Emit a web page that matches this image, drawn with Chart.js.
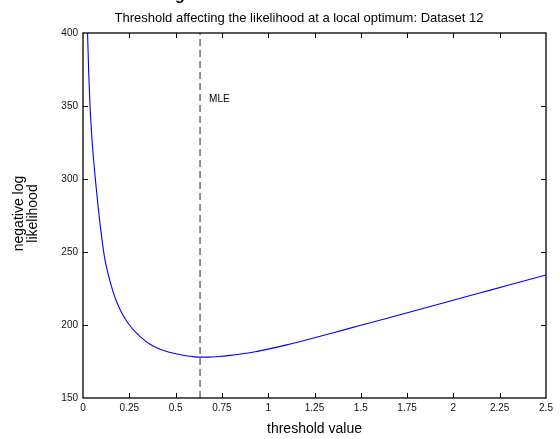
<!DOCTYPE html>
<html>
<head>
<meta charset="utf-8">
<script src="https://cdn.jsdelivr.net/npm/chart.js@4/dist/chart.umd.min.js"></script>
<style>
  html, body { margin: 0; padding: 0; background: #fff; }
  canvas { display: block; }
</style>
</head>
<body>
<canvas id="nllChart" width="560" height="439"></canvas>
<script>
// threshold grid and negative log likelihood along the profile
let thresholds = [0.015, 0.025, 0.031, 0.038, 0.047, 0.058, 0.069, 0.08, 0.09, 0.1,
    0.11, 0.12, 0.13, 0.146, 0.163, 0.182, 0.2, 0.225, 0.25, 0.28,
    0.308, 0.335, 0.36, 0.4, 0.44, 0.49, 0.54, 0.59, 0.632, 0.68,
    0.73, 0.794, 0.86, 0.93, 1.0, 1.1, 1.2, 1.352, 1.5, 1.712,
    1.9, 2.072, 2.2, 2.35, 2.5];
let nll = [455, 398, 372, 350, 330, 312, 297, 283, 271.5, 261,
    251.5, 243.8, 238, 230, 222.5, 215.8, 210.6, 204.8, 200.2, 195.6,
    192.2, 189.3, 187, 184.3, 182.3, 180.6, 179.3, 178.4, 178, 178,
    178.4, 179.2, 180.3, 181.7, 183.5, 186.4, 189.6, 194.7, 199.8, 207,
    213.5, 219.5, 223.9, 229.1, 234.3];

let mleThreshold = 0.632;
let mleLabel = 'MLE';
let mleLabelLevel = 355;

let xTicks = [0, 0.25, 0.5, 0.75, 1, 1.25, 1.5, 1.75, 2, 2.25, 2.5];
let yTicks = [150, 200, 250, 300, 350, 400];

let titleText = 'Threshold affecting the likelihood at a local optimum: Dataset 12';
let xTitle = 'threshold value';
let yTitle = ['negative log', 'likelihood'];

const FONT = '"Liberation Sans", Arial, Helvetica, sans-serif';

// box, inward ticks, titles and the MLE label
const framePlugin = {
    id: 'frame',
    afterDraw(chart) {
        const ctx = chart.ctx;
        const a = chart.chartArea;
        const xs = chart.scales.x, ys = chart.scales.y;
        ctx.save();
        ctx.strokeStyle = '#000';
        ctx.lineWidth = 1.3;
        ctx.strokeRect(a.left, a.top, a.right - a.left, a.bottom - a.top);

        ctx.lineWidth = 1;
        ctx.beginPath();
        xTicks.slice(1, -1).forEach(v => {
            const px = Math.round(xs.getPixelForValue(v)) + 0.5;
            ctx.moveTo(px, a.bottom); ctx.lineTo(px, a.bottom - 5);
            ctx.moveTo(px, a.top); ctx.lineTo(px, a.top + 5);
        });
        yTicks.slice(1, -1).forEach(v => {
            const py = Math.round(ys.getPixelForValue(v)) + 0.5;
            ctx.moveTo(a.left, py); ctx.lineTo(a.left + 5, py);
            ctx.moveTo(a.right, py); ctx.lineTo(a.right - 5, py);
        });
        ctx.stroke();

        ctx.fillStyle = '#000';
        // MLE label next to the dashed line
        ctx.font = '10px ' + FONT;
        ctx.textAlign = 'left';
        ctx.textBaseline = 'middle';
        ctx.fillText(mleLabel, xs.getPixelForValue(mleThreshold) + 9, ys.getPixelForValue(mleLabelLevel) + 1);

        // title
        ctx.font = '13px ' + FONT;
        ctx.textAlign = 'center';
        ctx.textBaseline = 'alphabetic';
        ctx.fillText(titleText, 299, 22);

        // leftover glyph of the figure heading cut off at the top edge
        ctx.font = 'bold 16px ' + FONT;
        ctx.textAlign = 'left';
        ctx.fillText('g', 175, -0.5);

        // axis titles
        ctx.font = '14px ' + FONT;
        ctx.textAlign = 'center';
        ctx.textBaseline = 'middle';
        ctx.fillText(xTitle, (a.left + a.right) / 2, 429);

        ctx.translate(26, (a.top + a.bottom) / 2 - 2);
        ctx.rotate(-Math.PI / 2);
        ctx.fillText(yTitle[0], 0, -7);
        ctx.fillText(yTitle[1], 0, 7);
        ctx.restore();
    }
};

new Chart(document.getElementById('nllChart'), {
    type: 'line',
    data: {
        datasets: [
            {
                label: 'nll',
                data: thresholds.map((t, i) => ({ x: t, y: nll[i] })),
                borderColor: '#0000ff',
                borderWidth: 1.1,
                pointRadius: 0,
                fill: false,
                cubicInterpolationMode: 'monotone'
            },
            {
                label: 'mle',
                data: [{ x: mleThreshold, y: yTicks[0] }, { x: mleThreshold, y: yTicks[yTicks.length - 1] }],
                borderColor: '#4a4a4a',
                borderWidth: 1.2,
                borderDash: [7, 4],
                pointRadius: 0,
                fill: false
            }
        ]
    },
    options: {
        responsive: false,
        animation: false,
        devicePixelRatio: 1,
        layout: { padding: { top: 33, right: 14, left: 0, bottom: 0 } },
        plugins: {
            legend: { display: false },
            tooltip: { enabled: false }
        },
        scales: {
            x: {
                type: 'linear',
                min: 0,
                max: 2.5,
                afterBuildTicks: s => { s.ticks = xTicks.map(v => ({ value: v })); },
                afterFit: s => { s.height = 41; },
                grid: { display: false, drawTicks: false },
                border: { display: false },
                ticks: {
                    padding: 4,
                    color: '#111',
                    font: { family: FONT, size: 10 },
                    maxRotation: 0,
                    autoSkip: false,
                    callback: v => String(v)
                }
            },
            y: {
                type: 'linear',
                min: 150,
                max: 400,
                afterBuildTicks: s => { s.ticks = yTicks.map(v => ({ value: v })); },
                afterFit: s => { s.width = 83; },
                grid: { display: false, drawTicks: false },
                border: { display: false },
                ticks: {
                    padding: 5,
                    color: '#111',
                    font: { family: FONT, size: 10 },
                    autoSkip: false,
                    callback: v => String(v)
                }
            }
        }
    },
    plugins: [framePlugin]
});
</script>
</body>
</html>
